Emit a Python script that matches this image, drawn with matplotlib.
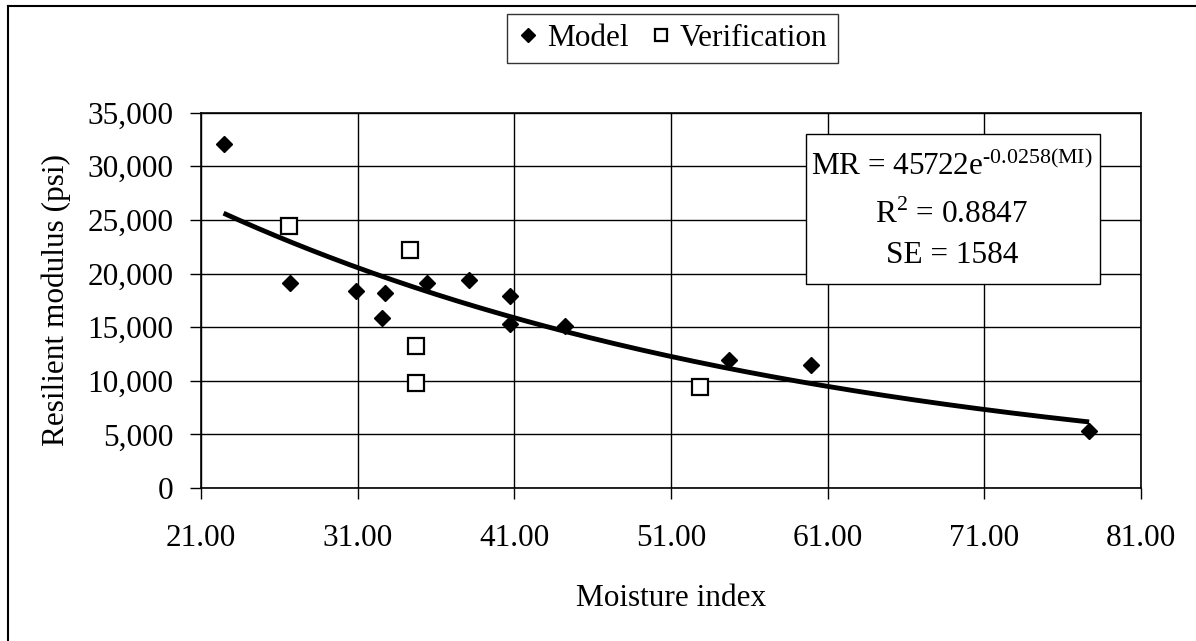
import numpy as np
import matplotlib
matplotlib.use("Agg")
import matplotlib.pyplot as plt
from matplotlib.lines import Line2D
from matplotlib.patches import Rectangle
from matplotlib.ticker import FuncFormatter

# Model data set (moisture index vs. resilient modulus, psi)
model_mi = [22.44, 26.66, 30.88, 32.53, 32.76, 35.44, 38.11, 40.70, 40.74,
            44.25, 54.71, 59.95, 77.69]
model_mr = [32100, 19100, 18400, 15900, 18200, 19150, 19400, 17900, 15250,
            15100, 11950, 11450, 5300]

# Verification data set
verif_mi = [26.60, 34.35, 34.71, 34.73, 52.85]
verif_mr = [24400, 22150, 13250, 9750, 9450]

# Exponential fit: MR = a * exp(b * MI)
fit_a = 45722
fit_b = -0.0258
fit_r2 = 0.8847
fit_se = 1584

x_ticks = [21, 31, 41, 51, 61, 71, 81]
y_ticks = [0, 5000, 10000, 15000, 20000, 25000, 30000, 35000]

plt.rcParams['font.family'] = ['Liberation Serif', 'DejaVu Serif']
plt.rcParams['mathtext.fontset'] = 'custom'
plt.rcParams['mathtext.rm'] = 'Liberation Serif'
FS = 22.5

W, H = 1196, 641
fig = plt.figure(figsize=(W / 100, H / 100), dpi=100)
ax = fig.add_axes([201 / W, 1 - 488 / H, (1141 - 201) / W, (488 - 112.7) / H])

ax.grid(True, color='black', lw=1.0)
ax.set_axisbelow(True)

fx = np.linspace(min(model_mi), max(model_mi), 200)
ax.plot(fx, fit_a * np.exp(fit_b * fx), color='black', lw=3.5,
        solid_capstyle='butt', zorder=2)

ax.plot(model_mi, model_mr, ls='none', marker='D', ms=8.4, color='black',
        label='Model', zorder=3)
ax.plot(verif_mi, verif_mr, ls='none', marker='s', ms=11, mfc='white',
        mec='black', mew=1.6, label='Verification', zorder=3)

ax.set_xlim(21, 81)
ax.set_ylim(0, 35000)
ax.set_xticks(x_ticks)
ax.set_yticks(y_ticks)
ax.xaxis.set_major_formatter(FuncFormatter(lambda v, p: f"{v:.2f}"))
ax.yaxis.set_major_formatter(FuncFormatter(lambda v, p: f"{v:,.0f}"))
ax.tick_params(direction='out', length=8, width=1, labelsize=FS)
ax.tick_params(axis='y', pad=12)
ax.tick_params(axis='x', pad=18)
for s in ax.spines.values():
    s.set_linewidth(1.2)

ax.set_xlabel('Moisture index', fontsize=FS, labelpad=22)
ax.set_ylabel('Resilient modulus (psi)', fontsize=FS, labelpad=12)

leg = fig.legend(loc='center', bbox_to_anchor=(672.5 / W, 1 - 38.5 / H),
                 ncol=2, fontsize=FS, frameon=True, fancybox=False,
                 handlelength=0.7, handletextpad=0.25, columnspacing=0.7,
                 borderpad=0.32, borderaxespad=0)
leg.get_frame().set_edgecolor('black')
leg.get_frame().set_linewidth(1.0)
for h in leg.legend_handles:
    h.set_markersize(h.get_markersize() * 0.85)

# equation box
fig.add_artist(Rectangle((805.5 / W, 1 - 284 / H), (1100 - 805.5) / W,
                         (284 - 134) / H, transform=fig.transFigure,
                         facecolor='white', edgecolor='black', lw=1.0,
                         zorder=3))
cx = 952 / W
fig.text(cx, 1 - 166 / H, 'MR = 45722e$^{\\mathrm{\u20100.0258(MI)}}$',
         ha='center', va='center', fontsize=FS, zorder=4)
fig.text(cx, 1 - 215 / H, r'R$^{\mathrm{2}}$' + f' = {fit_r2}',
         ha='center', va='center', fontsize=FS, zorder=4)
fig.text(cx, 1 - 255 / H, f'SE = {fit_se}',
         ha='center', va='center', fontsize=FS, zorder=4)

# chart area border (top and left edges)
fig.add_artist(Line2D([7.5 / W, 7.5 / W], [0, 1 - 5.5 / H],
                      transform=fig.transFigure, color='black', lw=1.5))
fig.add_artist(Line2D([7.5 / W, 1], [1 - 5.5 / H, 1 - 5.5 / H],
                      transform=fig.transFigure, color='black', lw=1.5))

fig.savefig('out.png', dpi=100)
